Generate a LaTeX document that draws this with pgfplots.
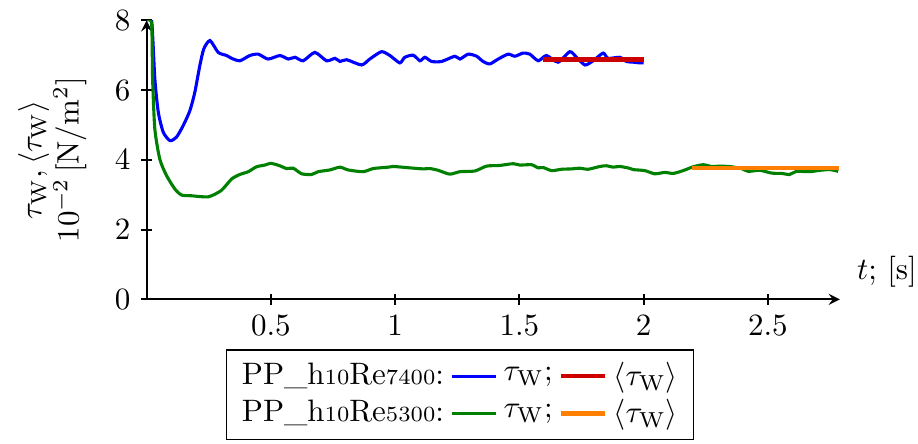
\documentclass[border=0pt]{standalone}
\usepackage{pgfplots}
\pgfplotsset{compat=1.18}
\definecolor{cblue}{RGB}{0,0,255}
\definecolor{cgreen}{RGB}{0,128,0}
\definecolor{cred}{RGB}{204,0,0}
\definecolor{corange}{RGB}{255,128,0}
\newcommand{\tw}{\tau_{\mathrm{W}}}
\begin{document}
\begin{tikzpicture}
\begin{axis}[
  scale only axis,
  width=223.6pt, height=90pt,
  xmin=0, xmax=2.79, ymin=0, ymax=8,
  axis lines=left,
  axis line style={semithick,-stealth},
  tick style={semithick,black},
  tick align=center,
  major tick length=3.5pt,
  xtick={0.5,1,1.5,2,2.5},
  ytick={0,2,4,6,8},
  xlabel={$t$; [s]},
  xlabel style={at={(axis description cs:1.024,0.099)},anchor=west,inner sep=0pt},
  ylabel={$\tw,\langle\tw\rangle$\\$10^{-2}\,[\mathrm{N/m^2}]$},
  ylabel style={at={(axis description cs:-0.086,0.5)},anchor=south,align=center,inner sep=0pt},
  legend columns=3,
  legend style={at={(0.452,-0.179)},anchor=north,draw=black,font=\normalsize,
    row sep=-1pt},
  legend cell align=left,
  legend image code/.code={\draw[#1] (0cm,0cm) -- (0.5cm,0cm);},
]
\addlegendimage{legend image code/.code={}}
\addlegendentry[xshift=-4pt]{PP\_h{\scriptsize 10}Re{\scriptsize 7400}:}
\addplot[cblue, line width=1pt, smooth, tension=0.4] coordinates {
(0,8.0)(0.02,7.99)(0.033,6.32)(0.047,5.36)(0.067,4.79)(0.094,4.55)(0.12,4.65)
(0.147,4.98)(0.174,5.41)(0.194,5.94)(0.214,6.70)(0.23,7.18)(0.255,7.42)
(0.288,7.08)(0.322,6.99)(0.342,6.91)(0.375,6.84)(0.415,6.99)(0.449,7.03)
(0.489,6.89)(0.536,6.99)(0.570,6.89)(0.597,6.94)(0.630,6.84)(0.677,7.08)
(0.724,6.84)(0.758,6.91)(0.778,6.82)(0.805,6.87)(0.865,6.72)(0.898,6.89)
(0.945,7.10)(0.979,6.99)(1.019,6.78)(1.039,6.94)(1.073,7.00)(1.100,6.84)
(1.120,6.94)(1.147,6.82)(1.187,6.82)(1.240,6.97)(1.261,6.89)(1.294,7.03)
(1.328,6.97)(1.354,6.82)(1.381,6.75)(1.415,6.89)(1.455,7.03)(1.482,6.97)
(1.515,7.06)(1.542,7.03)(1.576,6.84)(1.609,6.99)(1.656,6.80)(1.703,7.10)
(1.730,6.94)(1.764,6.72)(1.797,6.84)(1.837,7.06)(1.857,6.91)(1.904,6.94)
(1.931,6.82)(1.958,6.80)(1.985,6.78)(2.0,6.78)
};
\addlegendentry{$\tw$;}
\addplot[cred, line width=1.4pt] coordinates {(1.596,6.88)(2.0,6.88)};
\addlegendentry{$\langle\tw\rangle$}
\addlegendimage{legend image code/.code={}}
\addlegendentry[xshift=-4pt]{PP\_h{\scriptsize 10}Re{\scriptsize 5300}:}
\addplot[cgreen, line width=1pt, smooth, tension=0.4] coordinates {
(0,8.0)(0.02,7.9)(0.024,6.32)(0.033,4.88)(0.053,4.02)(0.08,3.55)(0.114,3.16)
(0.141,2.99)(0.18,2.97)(0.248,2.94)(0.30,3.12)(0.342,3.45)(0.375,3.58)
(0.409,3.66)(0.442,3.80)(0.476,3.85)(0.50,3.90)(0.536,3.83)(0.563,3.75)
(0.590,3.76)(0.624,3.60)(0.664,3.58)(0.690,3.66)(0.737,3.71)(0.778,3.79)
(0.811,3.71)(0.871,3.66)(0.912,3.75)(0.972,3.79)(0.992,3.81)(1.059,3.77)
(1.113,3.74)(1.14,3.75)(1.173,3.70)(1.220,3.59)(1.261,3.66)(1.321,3.68)
(1.368,3.82)(1.422,3.84)(1.475,3.89)(1.502,3.85)(1.549,3.86)(1.576,3.77)
(1.596,3.78)(1.630,3.69)(1.670,3.73)(1.710,3.74)(1.743,3.76)(1.777,3.73)
(1.824,3.81)(1.851,3.83)(1.877,3.79)(1.904,3.81)(1.942,3.76)(1.958,3.72)
(2.005,3.69)(2.045,3.60)(2.086,3.64)(2.119,3.61)(2.159,3.69)(2.199,3.80)
(2.240,3.86)(2.273,3.81)(2.314,3.82)(2.354,3.80)(2.394,3.75)(2.421,3.67)
(2.468,3.70)(2.515,3.62)(2.555,3.61)(2.588,3.58)(2.615,3.67)(2.669,3.66)
(2.709,3.70)(2.750,3.72)(2.783,3.67)
};
\addlegendentry{$\tw$;}
\addplot[corange, line width=1.4pt] coordinates {(2.193,3.76)(2.785,3.76)};
\addlegendentry{$\langle\tw\rangle$}
\end{axis}
\path ([shift={(-47.3pt,-46.5pt)}]current axis.south west) rectangle ([shift={(248.8pt,95.8pt)}]current axis.south west);
\end{tikzpicture}
\end{document}
